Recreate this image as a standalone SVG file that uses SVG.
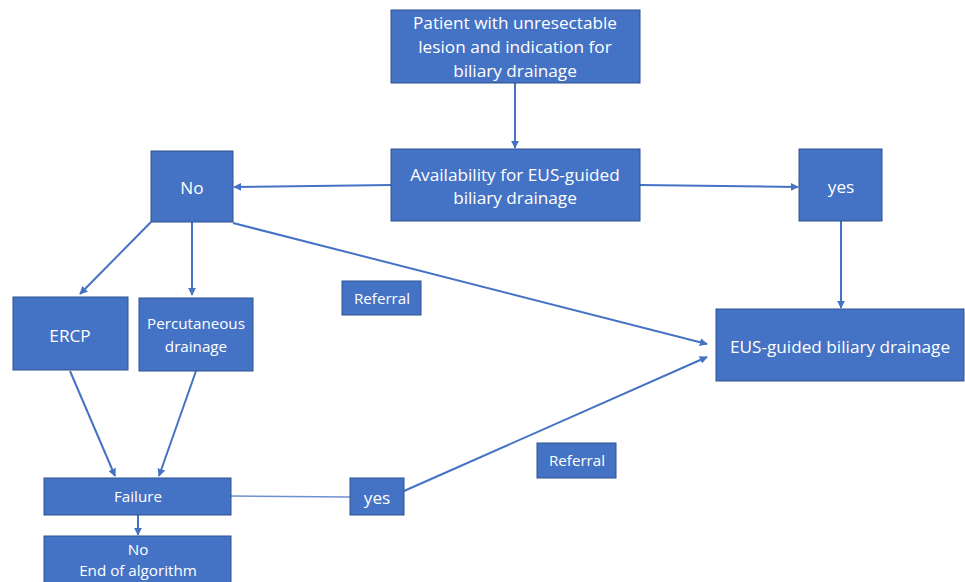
<svg xmlns="http://www.w3.org/2000/svg" width="965" height="582" viewBox="0 0 965 582">
<style>
.box{fill:#4472C4;stroke:#2F528F;stroke-width:1}
.t{fill:#fff;font-family:"Open Sans","Liberation Sans",sans-serif;text-anchor:middle;dominant-baseline:central}
.l{font-size:17.2px}
.s{font-size:15.2px}
.c{stroke:#4472C4;stroke-width:2;fill:none;marker-end:url(#a)}
</style>
<defs>
<marker id="a" viewBox="0 0 10 10" refX="9" refY="5" markerWidth="4" markerHeight="4" orient="auto" markerUnits="strokeWidth">
<path d="M0,0 L10,5 L0,10 z" fill="#4472C4"/>
</marker>
</defs>
<rect width="965" height="582" fill="#fff"/>
<g id="connectors">
<line class="c" x1="515" y1="83" x2="515" y2="148"/>
<line class="c" x1="391" y1="185" x2="234" y2="187"/>
<line class="c" x1="640" y1="185" x2="798" y2="187"/>
<line class="c" x1="841" y1="221" x2="841" y2="308"/>
<line class="c" x1="151" y1="222" x2="80" y2="294"/>
<line class="c" x1="192" y1="222" x2="192" y2="295"/>
<line class="c" x1="233" y1="223" x2="707" y2="344"/>
<line class="c" x1="70" y1="371" x2="115" y2="476"/>
<line class="c" x1="196" y1="371" x2="159" y2="476"/>
<line class="c" x1="138" y1="515" x2="138" y2="535"/>
<line x1="231" y1="496" x2="350" y2="497" stroke="#6E8FD0" stroke-width="1.5"/>
<line class="c" x1="404" y1="491" x2="707" y2="357"/>
</g>
<g id="patient"><rect class="box" x="391" y="10" width="249" height="73"/>
<text class="t l" x="515" y="22">Patient with unresectable</text>
<text class="t l" x="515" y="46">lesion and indication for</text>
<text class="t l" x="515" y="70">biliary drainage</text></g>
<g id="availability"><rect class="box" x="391" y="149" width="249" height="72"/>
<text class="t l" x="515" y="174">Availability for EUS-guided</text>
<text class="t l" x="515" y="197">biliary drainage</text></g>
<g id="no"><rect class="box" x="151" y="151" width="82" height="71"/>
<text class="t l" x="192" y="187">No</text></g>
<g id="yes-top"><rect class="box" x="799" y="149" width="83" height="72"/>
<text class="t l" x="841" y="186">yes</text></g>
<g id="ercp"><rect class="box" x="13" y="297" width="115" height="73"/>
<text class="t l" x="70" y="335">ERCP</text></g>
<g id="percutaneous"><rect class="box" x="139" y="298" width="114" height="73"/>
<text class="t s" x="196" y="323">Percutaneous</text>
<text class="t s" x="196" y="346">drainage</text></g>
<g id="referral1"><rect class="box" x="342" y="281" width="79" height="34"/>
<text class="t s" x="382" y="298">Referral</text></g>
<g id="eus"><rect class="box" x="716" y="309" width="248" height="72"/>
<text class="t l" x="840" y="346">EUS-guided biliary drainage</text></g>
<g id="referral2"><rect class="box" x="537" y="443" width="79" height="35"/>
<text class="t s" x="577" y="460">Referral</text></g>
<g id="failure"><rect class="box" x="44" y="478" width="187" height="37"/>
<text class="t s" x="138" y="496">Failure</text></g>
<g id="yes-bottom"><rect class="box" x="350" y="478" width="54" height="37"/>
<text class="t l" x="377" y="497">yes</text></g>
<g id="end"><rect class="box" x="44" y="536" width="187" height="50"/>
<text class="t s" x="138" y="549">No</text>
<text class="t s" x="138" y="570">End of algorithm</text></g>
</svg>
